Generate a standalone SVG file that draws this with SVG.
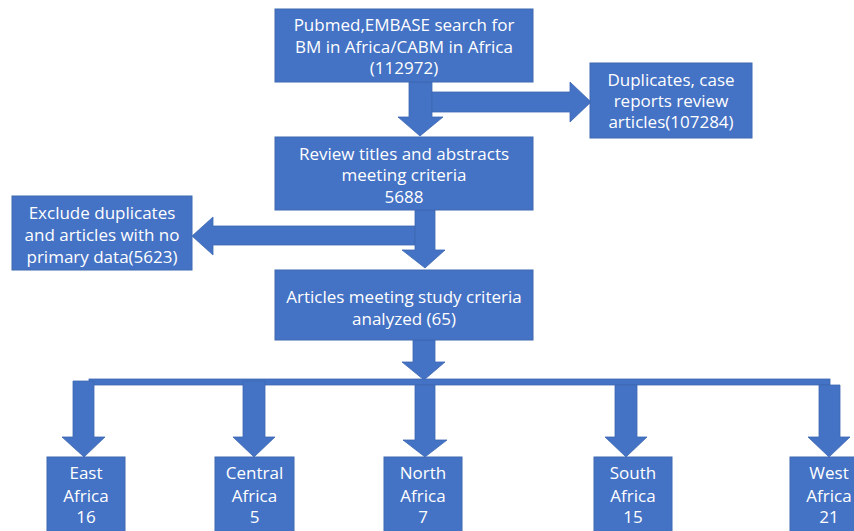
<svg xmlns="http://www.w3.org/2000/svg" width="854" height="531" viewBox="0 0 854 531">
<style>
.box{fill:#4472C4;stroke:#3E68B2;stroke-width:1}
.arr{fill:#4472C4;stroke:#3E68B2;stroke-width:0.8}
text{font-family:"Open Sans","Liberation Sans",sans-serif;font-size:17px;fill:#ffffff;text-anchor:middle}
</style>
<rect width="854" height="531" fill="#ffffff"/>
<g id="connectors">
<polygon class="arr" points="409,82 432,82 432,117 443,117 420,136 398,117 409,117"/>
<polygon class="arr" points="432,92 570,92 570,82 591,102 570,122 570,112 432,112"/>
<polygon class="arr" points="415,226 415,245 213,245 213,255 192,236 213,217 213,226"/>
<polygon class="arr" points="415,210 435,210 435,250 445,250 425,268 402,250 415,250"/>
<polygon class="arr" points="413,340 435,340 435,362 445,362 424,380 402,362 413,362"/>
<rect class="arr" x="89" y="379" width="741" height="6"/>
<polygon class="arr" points="73,381 94,381 94,437 105,437 84,457 62,437 73,437"/>
<polygon class="arr" points="243,381 265,381 265,437 275,437 254,457 233,437 243,437"/>
<polygon class="arr" points="415,385 435,385 435,440 447,440 425,457 403,440 415,440"/>
<polygon class="arr" points="615,385 637,385 637,437 647,437 626,457 605,437 615,437"/>
<polygon class="arr" points="819,385 840,385 840,437 850,437 829,457 808,437 819,437"/>
</g>
<g id="search">
<rect class="box" x="275" y="9" width="258" height="73"/>
<text x="404" y="31">Pubmed,EMBASE search for</text>
<text x="404" y="53">BM in Africa/CABM in Africa</text>
<text x="404" y="74">(112972)</text>
</g>
<g id="duplicates">
<rect class="box" x="590" y="63" width="162" height="75"/>
<text x="671" y="86">Duplicates, case</text>
<text x="671" y="107">reports review</text>
<text x="671" y="128">articles(107284)</text>
</g>
<g id="review">
<rect class="box" x="275" y="137" width="258" height="73"/>
<text x="404" y="160">Review titles and abstracts</text>
<text x="404" y="181">meeting criteria</text>
<text x="404" y="203">5688</text>
</g>
<g id="exclude">
<rect class="box" x="12" y="196" width="180" height="74"/>
<text x="102" y="219">Exclude duplicates</text>
<text x="102" y="241">and articles with no</text>
<text x="102" y="263">primary data(5623)</text>
</g>
<g id="analyzed">
<rect class="box" x="275" y="270" width="258" height="70"/>
<text x="404" y="303">Articles meeting study criteria</text>
<text x="404" y="325">analyzed (65)</text>
</g>
<g id="east">
<rect class="box" x="47" y="457" width="78" height="80"/>
<text x="86" y="479">East</text>
<text x="86" y="502">Africa</text>
<text x="86" y="523">16</text>
</g>
<g id="central">
<rect class="box" x="215" y="457" width="79" height="80"/>
<text x="254.5" y="479">Central</text>
<text x="254.5" y="502">Africa</text>
<text x="254.5" y="523">5</text>
</g>
<g id="north">
<rect class="box" x="384" y="457" width="78" height="80"/>
<text x="423" y="479">North</text>
<text x="423" y="502">Africa</text>
<text x="423" y="523">7</text>
</g>
<g id="south">
<rect class="box" x="594" y="457" width="78" height="80"/>
<text x="633" y="479">South</text>
<text x="633" y="502">Africa</text>
<text x="633" y="523">15</text>
</g>
<g id="west">
<rect class="box" x="790" y="457" width="78" height="80"/>
<text x="829" y="479">West</text>
<text x="829" y="502">Africa</text>
<text x="829" y="523">21</text>
</g>
</svg>
